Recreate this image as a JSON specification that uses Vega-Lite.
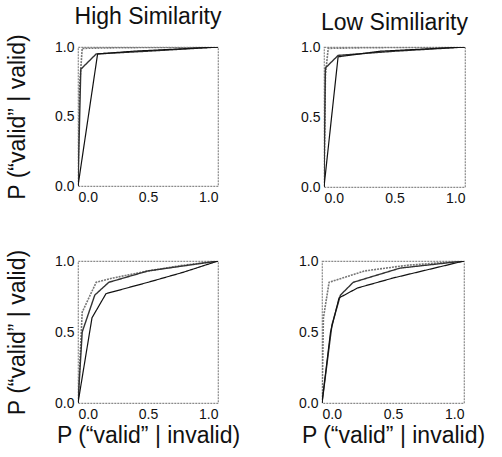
{
  "$schema": "https://vega.github.io/schema/vega-lite/v6.json",
  "padding": {"left": 5, "top": 5, "right": 2, "bottom": 2},
  "background": "white",
  "spacing": 42,
  "config": {
    "font": "Liberation Sans",
    "view": {"stroke": "#8a8a8a", "strokeWidth": 1.2, "strokeDash": [2, 1]},
    "axis": {
      "domain": false, "ticks": false, "grid": false,
      "labelFont": "Liberation Sans", "labelFontSize": 14, "labelColor": "#111",
      "titleFont": "Liberation Sans", "titleFontSize": 23, "titleFontWeight": "normal", "titleColor": "#111",
      "labelPadding": 4
    },
    "title": {"font": "Liberation Sans", "fontSize": 23, "fontWeight": "normal", "color": "#111", "offset": 5}
  },
  "datasets": {
    "roc": [
      {"panel": "TL", "series": "top", "x": 0, "y": 0},
      {"panel": "TL", "series": "top", "x": 0.01, "y": 0.7},
      {"panel": "TL", "series": "top", "x": 0.03, "y": 0.99},
      {"panel": "TL", "series": "top", "x": 0.3, "y": 0.995},
      {"panel": "TL", "series": "top", "x": 1, "y": 1},
      {"panel": "TL", "series": "mid", "x": 0, "y": 0},
      {"panel": "TL", "series": "mid", "x": 0.02, "y": 0.84},
      {"panel": "TL", "series": "mid", "x": 0.13, "y": 0.95},
      {"panel": "TL", "series": "mid", "x": 0.5, "y": 0.97},
      {"panel": "TL", "series": "mid", "x": 1, "y": 1},
      {"panel": "TL", "series": "low", "x": 0, "y": 0},
      {"panel": "TL", "series": "low", "x": 0.14, "y": 0.95},
      {"panel": "TL", "series": "low", "x": 0.4, "y": 0.97},
      {"panel": "TL", "series": "low", "x": 1, "y": 1},
      {"panel": "TR", "series": "top", "x": 0, "y": 0},
      {"panel": "TR", "series": "top", "x": 0.01, "y": 0.8},
      {"panel": "TR", "series": "top", "x": 0.03, "y": 0.99},
      {"panel": "TR", "series": "top", "x": 0.3, "y": 0.995},
      {"panel": "TR", "series": "top", "x": 1, "y": 1},
      {"panel": "TR", "series": "mid", "x": 0, "y": 0},
      {"panel": "TR", "series": "mid", "x": 0.01, "y": 0.85},
      {"panel": "TR", "series": "mid", "x": 0.1, "y": 0.94},
      {"panel": "TR", "series": "mid", "x": 0.5, "y": 0.97},
      {"panel": "TR", "series": "mid", "x": 1, "y": 1},
      {"panel": "TR", "series": "low", "x": 0, "y": 0},
      {"panel": "TR", "series": "low", "x": 0.1, "y": 0.93},
      {"panel": "TR", "series": "low", "x": 0.4, "y": 0.97},
      {"panel": "TR", "series": "low", "x": 1, "y": 1},
      {"panel": "BL", "series": "top", "x": 0, "y": 0},
      {"panel": "BL", "series": "top", "x": 0.03, "y": 0.64},
      {"panel": "BL", "series": "top", "x": 0.13, "y": 0.85},
      {"panel": "BL", "series": "top", "x": 0.25, "y": 0.88},
      {"panel": "BL", "series": "top", "x": 0.5, "y": 0.93},
      {"panel": "BL", "series": "top", "x": 0.75, "y": 0.97},
      {"panel": "BL", "series": "top", "x": 1, "y": 1},
      {"panel": "BL", "series": "mid", "x": 0, "y": 0},
      {"panel": "BL", "series": "mid", "x": 0.03, "y": 0.5},
      {"panel": "BL", "series": "mid", "x": 0.12, "y": 0.76},
      {"panel": "BL", "series": "mid", "x": 0.22, "y": 0.85},
      {"panel": "BL", "series": "mid", "x": 0.5, "y": 0.93},
      {"panel": "BL", "series": "mid", "x": 1, "y": 1},
      {"panel": "BL", "series": "low", "x": 0, "y": 0},
      {"panel": "BL", "series": "low", "x": 0.1, "y": 0.6},
      {"panel": "BL", "series": "low", "x": 0.2, "y": 0.77},
      {"panel": "BL", "series": "low", "x": 0.5, "y": 0.85},
      {"panel": "BL", "series": "low", "x": 0.75, "y": 0.92},
      {"panel": "BL", "series": "low", "x": 1, "y": 1},
      {"panel": "BR", "series": "top", "x": 0, "y": 0},
      {"panel": "BR", "series": "top", "x": 0.01, "y": 0.6},
      {"panel": "BR", "series": "top", "x": 0.05, "y": 0.85},
      {"panel": "BR", "series": "top", "x": 0.3, "y": 0.93},
      {"panel": "BR", "series": "top", "x": 0.6, "y": 0.97},
      {"panel": "BR", "series": "top", "x": 1, "y": 1},
      {"panel": "BR", "series": "mid", "x": 0, "y": 0},
      {"panel": "BR", "series": "mid", "x": 0.07, "y": 0.55},
      {"panel": "BR", "series": "mid", "x": 0.13, "y": 0.76},
      {"panel": "BR", "series": "mid", "x": 0.22, "y": 0.85},
      {"panel": "BR", "series": "mid", "x": 0.55, "y": 0.95},
      {"panel": "BR", "series": "mid", "x": 1, "y": 1},
      {"panel": "BR", "series": "low", "x": 0, "y": 0},
      {"panel": "BR", "series": "low", "x": 0.06, "y": 0.5},
      {"panel": "BR", "series": "low", "x": 0.12, "y": 0.74},
      {"panel": "BR", "series": "low", "x": 0.25, "y": 0.81},
      {"panel": "BR", "series": "low", "x": 0.5, "y": 0.88},
      {"panel": "BR", "series": "low", "x": 1, "y": 1}
    ]
  },
  "vconcat": [
    {
      "spacing": 76,
      "hconcat": [
        {
          "title": "High Similarity",
          "width": 140, "height": 139,
          "data": {"name": "roc"},
          "transform": [{"filter": "datum.panel === 'TL'"}],
          "mark": {"type": "line", "clip": true},
          "encoding": {
            "x": {"field": "x", "type": "quantitative", "scale": {"domain": [0, 1]}, "title": null, "axis": {"values": [0, 0.5, 1], "format": ".1f"}},
            "y": {"field": "y", "type": "quantitative", "scale": {"domain": [0, 1]}, "title": "P (“valid” | valid)", "axis": {"values": [0, 0.5, 1], "format": ".1f", "titlePadding": 25}},
            "detail": {"field": "series"},
            "color": {"field": "series", "type": "nominal", "scale": {"domain": ["top", "mid", "low"], "range": ["#777777", "#333333", "#111111"]}, "legend": null},
            "strokeDash": {"field": "series", "type": "nominal", "scale": {"domain": ["top", "mid", "low"], "range": [[2, 1], [1, 0], [1, 0]]}, "legend": null},
            "strokeWidth": {"field": "series", "type": "nominal", "scale": {"domain": ["top", "mid", "low"], "range": [1.6, 1.2, 2.2]}, "legend": null},
            "order": {"field": "x", "type": "quantitative"}
          }
        },
        {
          "title": "Low Similiarity",
          "width": 141, "height": 140,
          "data": {"name": "roc"},
          "transform": [{"filter": "datum.panel === 'TR'"}],
          "mark": {"type": "line", "clip": true},
          "encoding": {
            "x": {"field": "x", "type": "quantitative", "scale": {"domain": [0, 1]}, "title": null, "axis": {"values": [0, 0.5, 1], "format": ".1f"}},
            "y": {"field": "y", "type": "quantitative", "scale": {"domain": [0, 1]}, "title": null, "axis": {"values": [0, 0.5, 1], "format": ".1f"}},
            "detail": {"field": "series"},
            "color": {"field": "series", "type": "nominal", "scale": {"domain": ["top", "mid", "low"], "range": ["#777777", "#333333", "#111111"]}, "legend": null},
            "strokeDash": {"field": "series", "type": "nominal", "scale": {"domain": ["top", "mid", "low"], "range": [[2, 1], [1, 0], [1, 0]]}, "legend": null},
            "strokeWidth": {"field": "series", "type": "nominal", "scale": {"domain": ["top", "mid", "low"], "range": [1.6, 1.2, 2.2]}, "legend": null},
            "order": {"field": "x", "type": "quantitative"}
          }
        }
      ]
    },
    {
      "spacing": 56,
      "hconcat": [
        {
          "width": 140, "height": 142,
          "data": {"name": "roc"},
          "transform": [{"filter": "datum.panel === 'BL'"}],
          "mark": {"type": "line", "clip": true},
          "encoding": {
            "x": {"field": "x", "type": "quantitative", "scale": {"domain": [0, 1]}, "title": "P (“valid” | invalid)", "axis": {"values": [0, 0.5, 1], "format": ".1f", "titlePadding": 3}},
            "y": {"field": "y", "type": "quantitative", "scale": {"domain": [0, 1]}, "title": "P (“valid” | valid)", "axis": {"values": [0, 0.5, 1], "format": ".1f", "titlePadding": 25}},
            "detail": {"field": "series"},
            "color": {"field": "series", "type": "nominal", "scale": {"domain": ["top", "mid", "low"], "range": ["#222222", "#777777", "#222222"]}, "legend": null},
            "strokeDash": {"field": "series", "type": "nominal", "scale": {"domain": ["top", "mid", "low"], "range": [[2, 1], [1, 0], [2, 1]]}, "legend": null},
            "strokeWidth": {"field": "series", "type": "nominal", "scale": {"domain": ["top", "mid", "low"], "range": [2, 1.4, 2]}, "legend": null},
            "order": {"field": "x", "type": "quantitative"}
          }
        },
        {
          "width": 142, "height": 142,
          "data": {"name": "roc"},
          "transform": [{"filter": "datum.panel === 'BR'"}],
          "mark": {"type": "line", "clip": true},
          "encoding": {
            "x": {"field": "x", "type": "quantitative", "scale": {"domain": [0, 1]}, "title": "P (“valid” | invalid)", "axis": {"values": [0, 0.5, 1], "format": ".1f", "titlePadding": 3}},
            "y": {"field": "y", "type": "quantitative", "scale": {"domain": [0, 1]}, "title": null, "axis": {"values": [0, 0.5, 1], "format": ".1f"}},
            "detail": {"field": "series"},
            "color": {"field": "series", "type": "nominal", "scale": {"domain": ["top", "mid", "low"], "range": ["#222222", "#777777", "#222222"]}, "legend": null},
            "strokeDash": {"field": "series", "type": "nominal", "scale": {"domain": ["top", "mid", "low"], "range": [[2, 1], [1, 0], [2, 1]]}, "legend": null},
            "strokeWidth": {"field": "series", "type": "nominal", "scale": {"domain": ["top", "mid", "low"], "range": [2, 1.4, 2]}, "legend": null},
            "order": {"field": "x", "type": "quantitative"}
          }
        }
      ]
    }
  ]
}
